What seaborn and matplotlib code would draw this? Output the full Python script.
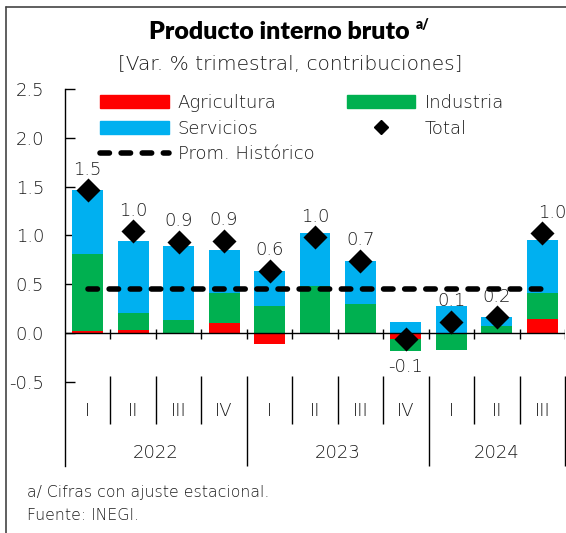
import matplotlib
matplotlib.use('Agg')
import matplotlib.pyplot as plt
from matplotlib.patches import Patch
from matplotlib.lines import Line2D
import seaborn as sns
import numpy as np
import pandas as pd

# datos (contribuciones a la var. % trimestral)
trimestres = ['I', 'II', 'III', 'IV', 'I', 'II', 'III', 'IV', 'I', 'II', 'III']
anios = ['2022', '2023', '2024']
trim_por_anio = [4, 4, 3]
agricultura = [0.02, 0.03, 0.00, 0.10, -0.11, 0.00, -0.01, -0.06, -0.01, -0.01, 0.14]
industria = [0.79, 0.17, 0.13, 0.31, 0.28, 0.48, 0.30, -0.12, -0.16, 0.075, 0.27]
servicios = [0.65, 0.74, 0.76, 0.44, 0.35, 0.54, 0.44, 0.11, 0.28, 0.085, 0.54]
total = [1.46, 1.04, 0.93, 0.94, 0.64, 0.98, 0.74, -0.06, 0.11, 0.16, 1.02]
prom_historico = [0.45] * len(trimestres)

ROJO = '#FF0000'
VERDE = '#00B050'
AZUL = '#00B0F0'
TXT = '#1a1a1a'

sns.set_theme(style='white')
plt.rcParams['font.family'] = ['DejaVu Sans']
FW = 'light'

fig = plt.figure(figsize=(5.66, 5.33), dpi=100)
ax = fig.add_axes([65 / 566, 1 - 466 / 533, 500 / 566, (466 - 89) / 533])

x = np.arange(len(trimestres))
df = pd.DataFrame({'x': x, 'total': total, 'prom': prom_historico})

# barras apiladas (positivos hacia arriba, negativos hacia abajo)
base_pos = np.zeros(len(x))
base_neg = np.zeros(len(x))
for vals, color in [(agricultura, ROJO), (industria, VERDE), (servicios, AZUL)]:
    v = np.array(vals)
    bottom = np.where(v >= 0, base_pos, base_neg)
    ax.bar(x, v, bottom=bottom, width=0.68, color=color, linewidth=0, zorder=2)
    base_pos += np.clip(v, 0, None)
    base_neg += np.clip(v, None, 0)

sns.lineplot(data=df, x='x', y='prom', ax=ax, color='black', lw=4,
             dashes=False, zorder=3, legend=False)
ax.lines[-1].set_dashes([1.7, 2.1])
ax.lines[-1].set_dash_capstyle('round')

sns.scatterplot(data=df, x='x', y='total', ax=ax, marker='D', s=150,
                color='black', linewidth=0, zorder=4, legend=False)

for i, t in enumerate(total):
    dx = 7 if i == len(total) - 1 else 0
    dy = 15 if t >= 0 else -20
    ax.annotate(f'{t:.1f}', (i, t), xytext=(dx, dy), textcoords='offset points',
                ha='center', va='center', fontsize=13, fontweight=FW,
                color=TXT, zorder=5)

ax.axhline(0, color='black', lw=1, zorder=3)

# separadores de categorias
limites = np.arange(0.5, len(x), 1.0)
ax.vlines(limites, -0.06, 0.04, color='black', lw=1, zorder=3)
fin_anio = np.cumsum(trim_por_anio) - 0.5
for b in limites:
    low = -1.363 if b in fin_anio else -0.93
    ax.vlines(b, low, -0.44, color='black', lw=1, clip_on=False)
for i, q in enumerate(trimestres):
    ax.text(i, -0.80, q, ha='center', va='center', fontsize=13,
            fontweight=FW, color=TXT)
inicio = 0
for a, n in zip(anios, trim_por_anio):
    ax.text(inicio + (n - 1) / 2, -1.23, a, ha='center', va='center',
            fontsize=13, fontweight=FW, color=TXT)
    inicio += n

ax.set_xlim(-0.5, len(x) - 0.5)
ax.set_ylim(-1.363, 2.5)
yt = [-0.5, 0, 0.5, 1.0, 1.5, 2.0, 2.5]
ax.set_yticks(yt)
ax.set_yticklabels([f'{v:.1f}' for v in yt], fontweight=FW, color=TXT)
ax.set_xticks([])
ax.set_xlabel('')
ax.set_ylabel('')
ax.tick_params(axis='y', direction='in', length=7, width=1, colors='black',
               labelcolor=TXT, pad=15, labelsize=13, left=True)
for s in ['top', 'right', 'bottom']:
    ax.spines[s].set_visible(False)
ax.spines['left'].set_color('black')
ax.spines['left'].set_linewidth(1)

handles = [
    Patch(color=ROJO, label='Agricultura'),
    Patch(color=AZUL, label='Servicios'),
    Line2D([], [], color='black', lw=4, dashes=[1.7, 2.1],
           dash_capstyle='round', label='Prom. Histórico'),
    Patch(color=VERDE, label='Industria'),
    Line2D([], [], color='black', marker='D', markersize=7, linestyle='none',
           label='Total'),
]
leg = fig.legend(handles=handles, ncol=2, loc='upper left',
                 bbox_to_anchor=(100 / 566, 1 - 94 / 533), frameon=False,
                 prop={'family': 'DejaVu Sans', 'weight': FW, 'size': 13},
                 handlelength=3.8, handleheight=0.7, handletextpad=0.5,
                 columnspacing=1.8, labelspacing=0.42, borderpad=0, borderaxespad=0)
for t in leg.get_texts():
    t.set_color(TXT)

titulo = fig.text(279 / 566, 1 - 32 / 533, 'Producto interno bruto', ha='center',
                  va='center', fontsize=18, fontweight='heavy', color='black',
                  family=['Lato', 'DejaVu Sans'])
fig.canvas.draw()
bb = titulo.get_window_extent()
fig.text((bb.x1 + 6) / 566, 1 - 25 / 533, 'a/', ha='left', va='center',
         fontsize=10, fontweight='heavy', color='black', family=['Lato', 'DejaVu Sans'])
fig.text(290 / 566, 1 - 64 / 533, '[Var. % trimestral, contribuciones]',
         ha='center', va='center', fontsize=14.5, fontweight=FW, color=TXT)
fig.text(27 / 566, 1 - 492 / 533, 'a/ Cifras con ajuste estacional.',
         ha='left', va='center', fontsize=11.3, fontweight=FW, color=TXT)
fig.text(27 / 566, 1 - 516 / 533, 'Fuente: INEGI.',
         ha='left', va='center', fontsize=11.3, fontweight=FW, color=TXT)

# marco
fig.add_artist(Line2D([6 / 566, 1], [1 - 7 / 533, 1 - 7 / 533],
                      transform=fig.transFigure, color='#444444', lw=1.2))
fig.add_artist(Line2D([6 / 566, 6 / 566], [0, 1 - 7 / 533],
                      transform=fig.transFigure, color='#444444', lw=1.2))

fig.savefig('out.png', dpi=100)
